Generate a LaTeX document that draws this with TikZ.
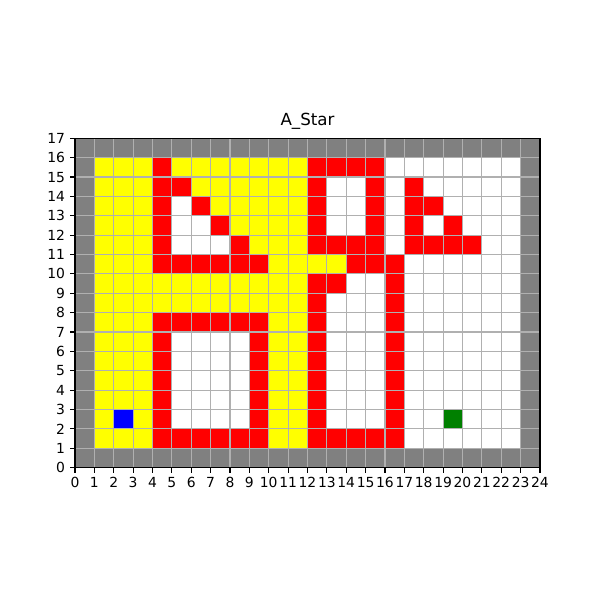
\documentclass[tikz,border=0pt]{standalone}
\usepackage{fontspec}
\setmainfont{DejaVu Sans}
\definecolor{cgray}{HTML}{808080}
\definecolor{cgrid}{HTML}{B0B0B0}
\definecolor{cyel}{HTML}{FFFF00}
\definecolor{cred}{HTML}{FF0000}
\definecolor{cblue}{HTML}{0000FF}
\definecolor{cgreen}{HTML}{008000}
\tikzset{
  gridline/.style={draw=cgrid, line width=0.8pt},
  spine/.style={draw=black, line width=0.8pt},
  tick/.style={draw=black, line width=0.8pt},
  ticklabel/.style={inner sep=0pt, font=\fontsize{10}{12}\selectfont},
  titlelabel/.style={inner sep=0pt, font=\fontsize{12}{14}\selectfont}
}
\begin{document}
\begin{tikzpicture}[x=13.95pt,y=13.95pt]
\useasboundingbox (-3.871,-6.828) rectangle (27.097,24.138);
% background cells
\fill[cgray] (0,0) rectangle (24,17);
\fill[white] (1,1) rectangle (23,16);
% yellow (visited)
\fill[cyel] (1,1) rectangle (4,16);
\fill[cyel] (10,1) rectangle (12,16);
\fill[cyel] (4,8) rectangle (10,10);
\fill[cyel] (5,15) rectangle (10,16);
\fill[cyel] (6,14) rectangle (10,15);
\fill[cyel] (7,13) rectangle (10,14);
\fill[cyel] (8,12) rectangle (10,13);
\fill[cyel] (9,11) rectangle (10,12);
\fill[cyel] (12,10) rectangle (14,11);
% red obstacles
\foreach \cx/\cy in {4/15,12/15,13/15,14/15,15/15,
  4/14,5/14,12/14,15/14,17/14,
  4/13,6/13,12/13,15/13,17/13,18/13,
  4/12,7/12,12/12,15/12,17/12,19/12,
  4/11,8/11,12/11,13/11,14/11,15/11,17/11,18/11,19/11,20/11,
  4/10,5/10,6/10,7/10,8/10,9/10,14/10,15/10,16/10,
  12/9,13/9,16/9,
  12/8,16/8,
  4/7,5/7,6/7,7/7,8/7,9/7,12/7,16/7,
  4/6,9/6,12/6,16/6,
  4/5,9/5,12/5,16/5,
  4/4,9/4,12/4,16/4,
  4/3,9/3,12/3,16/3,
  4/2,9/2,12/2,16/2,
  4/1,5/1,6/1,7/1,8/1,9/1,12/1,13/1,14/1,15/1,16/1}
  \fill[cred] (\cx,\cy) rectangle ++(1,1);
% start and goal
\fill[cblue] (2,2) rectangle (3,3);
\fill[cgreen] (19,2) rectangle (20,3);
% grid
\foreach \i in {1,...,23} \draw[gridline] (\i,0) -- (\i,17);
\foreach \j in {1,...,16} \draw[gridline] (0,\j) -- (24,\j);
% spines
\draw[spine] (0,0) rectangle (24,17);
% ticks
\foreach \i in {0,...,24} {
  \draw[tick] (\i,0) -- ++(0,-3.5pt);
  \node[ticklabel, anchor=north] (xl\i) at ([yshift=-7pt]\i,0) {\i};
}
\foreach \j in {0,...,17} {
  \draw[tick] (0,\j) -- ++(-3.5pt,0);
  \node[ticklabel, anchor=east] (yl\j) at ([xshift=-7pt]0,\j) {\j};
}
\node[titlelabel, anchor=south] (title) at ([yshift=6pt]12,17) {A\_Star};
\end{tikzpicture}
\end{document}
